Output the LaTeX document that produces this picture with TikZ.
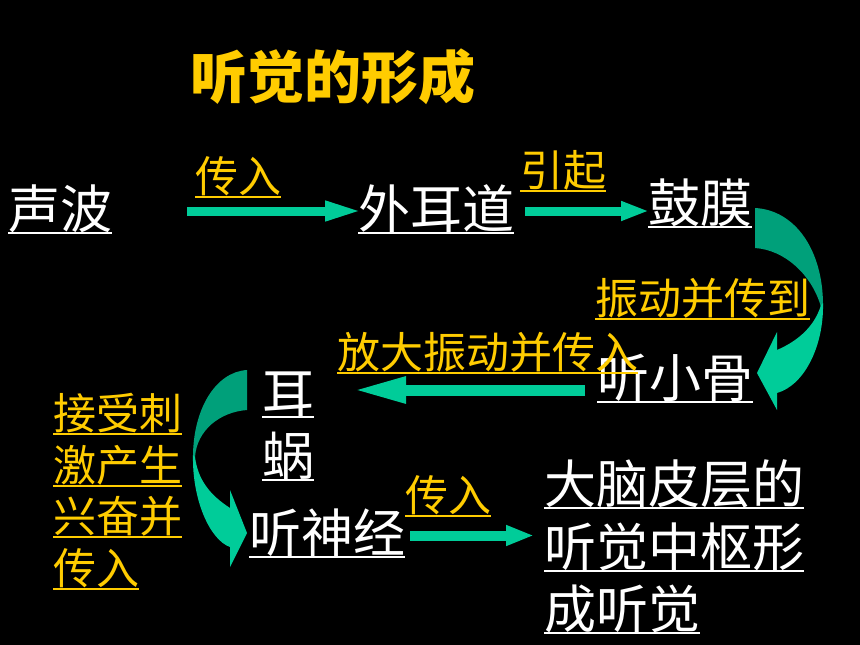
\documentclass[tikz,border=0pt]{standalone}
\usepackage{fontspec}
\setmainfont{Noto Sans CJK SC}
\usetikzlibrary{arrows.meta}
\definecolor{yel}{HTML}{FFCC00}
\definecolor{teal1}{HTML}{00CC99}
\definecolor{teal2}{HTML}{00A07A}
\newcommand\myul[2]{\draw[#2] ([yshift=-5pt]#1.base west) -- ([yshift=-5pt]#1.base east);}
\tikzset{
  big/.style={inner sep=0pt, anchor=base west, text=white, font=\fontsize{52}{52}\selectfont},
  lab/.style={inner sep=0pt, anchor=base west, text=yel, font=\fontsize{43}{43}\selectfont},
  wul/.style={draw=white, line width=2.2pt},
  yul/.style={draw=yel, line width=2pt},
  barrow/.style={draw=teal1, line cap=butt},
}
\begin{document}
\begin{tikzpicture}[x=1pt,y=-1pt]
\fill[black] (0,0) rectangle (860,645);
\useasboundingbox (0,0) rectangle (860,645);
% title
\node[inner sep=0pt, anchor=base west, text=yel, font=\fontsize{57}{57}\selectfont\bfseries] (title) at (190,98) {听觉的形成};
% main nodes
\node[big] (sb) at (8,228) {声波};
\node[big] (weq) at (358,228) {外耳道};
\node[big] (gm) at (648,222) {鼓膜};
\node[big] (txg) at (597,397) {听小骨};
\node[big] (er) at (262,412) {耳};
\node[big] (wo) at (262,475) {蜗};
\node[big] (tsj) at (249,552) {听神经};
\node[big] (dn1) at (544,503) {大脑皮层的};
\node[big] (dn2) at (544,566) {听觉中枢形};
\node[big] (dn3) at (544,628) {成听觉};
\foreach \n in {sb,weq,gm,txg,er,wo,tsj,dn1,dn2,dn3} {\myul{\n}{wul}}
% labels
\node[lab] (l1) at (195,192) {传入};
\node[lab] (l2) at (520,186) {引起};
\node[lab] (l3) at (595,314) {振动并传到};
\node[lab] (l4) at (337,368) {放大振动并传入};
\node[lab] (l5a) at (53,429) {接受刺};
\node[lab] (l5b) at (53,481) {激产生};
\node[lab] (l5c) at (53,532) {兴奋并};
\node[lab] (l5d) at (53,584) {传入};
\node[lab] (l6) at (405,511) {传入};
\foreach \n in {l1,l2,l3,l4,l5a,l5b,l5c,l5d,l6} {\myul{\n}{yul}}
% straight arrows
\coordinate (a1s) at (187,211); \coordinate (a1e) at (363,211);
\coordinate (a2s) at (525,211); \coordinate (a2e) at (649,211);
\coordinate (a3s) at (585,390); \coordinate (a3e) at (352,390);
\coordinate (a4s) at (410,535.5); \coordinate (a4e) at (534,535.5);
\draw[barrow, line width=9pt, -{Triangle[length=38pt,width=18pt]}] (a1s) -- (a1e);
\draw[barrow, line width=9pt, -{Triangle[length=28pt,width=18pt]}] (a2s) -- (a2e);
\draw[barrow, line width=11pt, -{Triangle[length=54pt,width=24pt]}] (a3s) -- (a3e);
\draw[barrow, line width=10pt, -{Triangle[length=28pt,width=19pt]}] (a4s) -- (a4e);
% right curved arrow
\fill[teal2] (755,208) .. controls (795,210) and (823,250) .. (823,305)
  -- (821,307) .. controls (812,275) and (785,250) .. (755,248) -- cycle;
\fill[teal1] (823,303) .. controls (824,345) and (805,385) .. (777,393)
  -- (777,410) -- (757,373) -- (777,332) -- (777,350)
  .. controls (800,340) and (815,325) .. (821,305) -- cycle;
% left curved arrow
\fill[teal2] (247,370) .. controls (215,372) and (193,410) .. (193,457)
  -- (195,457) .. controls (197,430) and (220,412) .. (247,410) -- cycle;
\fill[teal1] (193,455) .. controls (192,500) and (210,540) .. (230,547)
  -- (230,567) -- (247,533) -- (230,490) -- (230,508)
  .. controls (210,495) and (198,480) .. (195,457) -- cycle;
\end{tikzpicture}
\end{document}
